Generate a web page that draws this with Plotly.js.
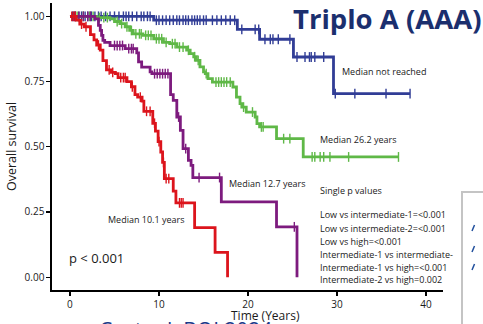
<!DOCTYPE html>
<html><head><meta charset="utf-8">
<script src="https://cdn.plot.ly/plotly-3.0.1.min.js"></script>
<style>html,body{margin:0;padding:0;background:#fff;}#chart{width:483px;height:324px;}</style>
</head><body><div id="chart"></div>
<script>
// ---- data (years, survival probability) ----
const lowTime  = [0, 9.4, 18.8, 21.3, 25.1, 29.6, 38.2];
const lowSurv  = [1.0, 0.985, 0.95, 0.912, 0.844, 0.704, 0.704];
const lowCens  = [0.3,0.6,1.0,1.3,1.7,2.0,2.4,2.8,3.2,3.5,4.0,4.5,5.0,5.5,6.0,6.3,6.6,7.0,7.5,8.0,8.3,8.7,9.0,9.7,10.0,10.4,10.8,11.2,11.6,12.0,12.3,12.7,13.0,13.3,13.7,14.0,14.3,14.6,15.0,15.3,16.0,16.5,17.0,17.5,18.0,18.5,19.3,20.8,21.2,21.9,22.5,22.8,23.4,24.7,25.5,26.4,26.9,27.1,27.5,28.5,29.8,32.0,35.5,38.2];

const int1Time = [0, 3.0, 4.5, 5.0, 5.6, 6.2, 6.7, 7.1, 8.2, 9.4, 10.5, 11.2, 12.0, 13.1, 13.5, 13.9, 14.2, 14.6, 15.0, 15.2, 15.5, 16.0, 18.3, 18.7, 19.1, 19.3, 19.8, 20.8, 21.0, 21.3, 23.2, 26.2, 36.9];
const int1Surv = [1.0, 0.995, 0.99, 0.98, 0.972, 0.96, 0.946, 0.933, 0.927, 0.914, 0.90, 0.895, 0.882, 0.87, 0.857, 0.845, 0.831, 0.806, 0.787, 0.78, 0.761, 0.748, 0.729, 0.69, 0.665, 0.652, 0.633, 0.614, 0.589, 0.576, 0.531, 0.461, 0.461];
const int1Cens = [0.8,1.5,2.2,2.6,3.3,3.8,4.2,5.3,5.8,6.4,6.9,7.4,7.8,8.0,8.5,8.8,9.1,9.7,10.0,10.3,10.8,11.5,11.8,12.3,12.7,13.3,14.0,14.4,15.3,16.4,16.7,17.0,17.3,17.6,18.0,19.5,20.5,21.5,21.7,24.0,24.7,27.2,27.5,28.1,28.5,29.2,31.3,36.9];

const int2Time = [0, 2.8, 3.2, 3.4, 3.55, 3.7, 3.9, 4.5, 6.2, 7.5, 7.7, 8.05, 9.0, 9.2, 11.3, 11.6, 12.0, 12.4, 12.7, 13.3, 13.6, 13.8, 17.0, 23.2, 25.5];
const int2Surv = [1.0, 0.99, 0.965, 0.946, 0.927, 0.908, 0.90, 0.888, 0.876, 0.86, 0.825, 0.805, 0.787, 0.78, 0.70, 0.678, 0.614, 0.563, 0.493, 0.448, 0.429, 0.382, 0.289, 0.193, 0.0];
const int2Cens = [0.5,1.0,1.5,2.0,2.3,5.0,5.3,5.6,5.9,6.6,6.9,7.1,9.5,9.8,10.1,10.4,10.7,11.0,12.2,13.0,14.5,16.8,25.2];

const highTime = [0, 0.7, 1.1, 1.6, 2.3, 2.7, 3.0, 3.4, 3.7, 4.1, 4.6, 5.1, 5.4, 6.4, 6.9, 7.3, 7.6, 8.1, 8.3, 9.3, 9.6, 9.9, 10.2, 10.4, 10.6, 11.6, 11.9, 14.0, 16.3, 17.7];
const highSurv = [1.0, 0.985, 0.97, 0.96, 0.93, 0.91, 0.89, 0.87, 0.83, 0.795, 0.785, 0.78, 0.765, 0.75, 0.73, 0.70, 0.69, 0.675, 0.636, 0.59, 0.56, 0.52, 0.48, 0.44, 0.378, 0.33, 0.285, 0.19, 0.095, 0.0];
const highCens = [0.2,0.4,0.6,1.3,1.8,3.2,4.4,4.8,5.7,6.0,6.2,7.0,7.9,8.6,9.0,9.5,10.0,10.5,10.8,11.1,12.3,12.5,12.7];

const groups = [
  {name:'Low', t:lowTime, s:lowSurv, c:lowCens, color:'#313d96'},
  {name:'Intermediate-1', t:int1Time, s:int1Surv, c:int1Cens, color:'#5fb847'},
  {name:'Intermediate-2', t:int2Time, s:int2Surv, c:int2Cens, color:'#7d1b7e'},
  {name:'High', t:highTime, s:highSurv, c:highCens, color:'#dc141c'}
];

function survAt(t, s, x){ let v = s[0]; for(let i=0;i<t.length;i++){ if(t[i]<=x) v=s[i]; } return v; }

const traces = [];
groups.forEach(g=>{
  traces.push({x:g.t, y:g.s, type:'scatter', mode:'lines', line:{shape:'hv', color:g.color, width:2.8}, name:g.name, showlegend:false, hoverinfo:'skip'});
  traces.push({x:g.c, y:g.c.map(v=>survAt(g.t,g.s,v)), type:'scatter', mode:'markers',
    marker:{symbol:'line-ns', size:7, line:{width:1.4, color:g.color}, color:g.color}, showlegend:false, hoverinfo:'skip'});
});

// pixel helpers for layout placement
const L=52, R=443, T=3, B=290;
const px = x => (x-L)/(R-L);
const py = y => (B-y)/(B-T);
const F = "'Open Sans', 'Noto Sans', sans-serif";
function txt(text, x, y, size, extra){ return Object.assign({text:text, xref:'paper', yref:'paper', x:px(x), y:py(y), xanchor:'left', yanchor:'middle', showarrow:false, font:{family:F, size:size, color:'#1a1a1a'}}, extra||{}); }

const ann = [
  txt('Median not reached', 340, 71, 9),
  txt('Median 26.2 years', 318, 139, 9),
  txt('Median 12.7 years', 227, 184, 9),
  txt('Median 10.1 years', 106, 219, 9),
  txt('Single p values', 318, 191, 9),
  txt('Low vs intermediate-1=<0.001', 318, 215, 9),
  txt('Low vs intermediate-2=<0.001', 318, 228, 9),
  txt('Low vs high=<0.001', 318, 241, 9),
  txt('Intermediate-1 vs intermediate-', 318, 254, 9),
  txt('Intermediate-1 vs high=<0.001', 318, 267, 9),
  txt('Intermediate-2 vs high=0.002', 318, 279, 9),
  txt('p < 0.001', 67, 258, 13),
  txt('<b>Triplo A (AAA)</b>', 291, 19, 27.5, {font:{family:F, size:27.5, color:'#1b2f6e'}}),
  txt('Costa d. BOL2024', 97, 330, 21, {font:{family:F, size:21, color:'#1b3a8a'}}),
  txt('Time (Years)', 265, 315, 12, {xanchor:'center'})
];

const layout = {
  width:483, height:324,
  margin:{l:L, r:483-R, t:T, b:324-B},
  paper_bgcolor:'#fff', plot_bgcolor:'#fff',
  font:{family:F, color:'#1a1a1a'},
  xaxis:{range:[-2.02, 41.9], tickvals:[0,10,20,30,40], showgrid:false, zeroline:false,
    showline:true, linecolor:'#000', linewidth:1.6, ticks:'outside', ticklen:4, tickwidth:1.2, tickcolor:'#000',
    tickfont:{family:F, size:10, color:'#1a1a1a'}},
  yaxis:{range:[-0.049, 1.051], tickvals:[0,0.25,0.5,0.75,1], ticktext:['0.00','0.25','0.50','0.75','1.00'],
    showgrid:false, zeroline:false,
    showline:true, linecolor:'#000', linewidth:1.6, ticks:'outside', ticklen:4, tickwidth:1.2, tickcolor:'#000',
    tickfont:{family:F, size:10, color:'#1a1a1a'},
    title:{text:'Overall survival', font:{family:F, size:12.5, color:'#1a1a1a'}, standoff:5}},
  annotations: ann,
  shapes:[
    {type:'rect', xref:'paper', yref:'paper', x0:px(462), x1:px(495), y0:py(340), y1:py(192), line:{color:'#c4c4c4', width:2}, fillcolor:'rgba(0,0,0,0)', layer:'above'},
    {type:'line', xref:'paper', yref:'paper', x0:px(472), x1:px(474.5), y0:py(231), y1:py(225), line:{color:'#1f4e9c', width:1.5}},
    {type:'line', xref:'paper', yref:'paper', x0:px(472), x1:px(474.5), y0:py(252), y1:py(246), line:{color:'#1f4e9c', width:1.5}},
    {type:'line', xref:'paper', yref:'paper', x0:px(472), x1:px(474.5), y0:py(270), y1:py(264), line:{color:'#1f4e9c', width:1.5}}
  ]
};

Plotly.newPlot('chart', traces, layout, {staticPlot:true, displayModeBar:false});
</script>
</body></html>
